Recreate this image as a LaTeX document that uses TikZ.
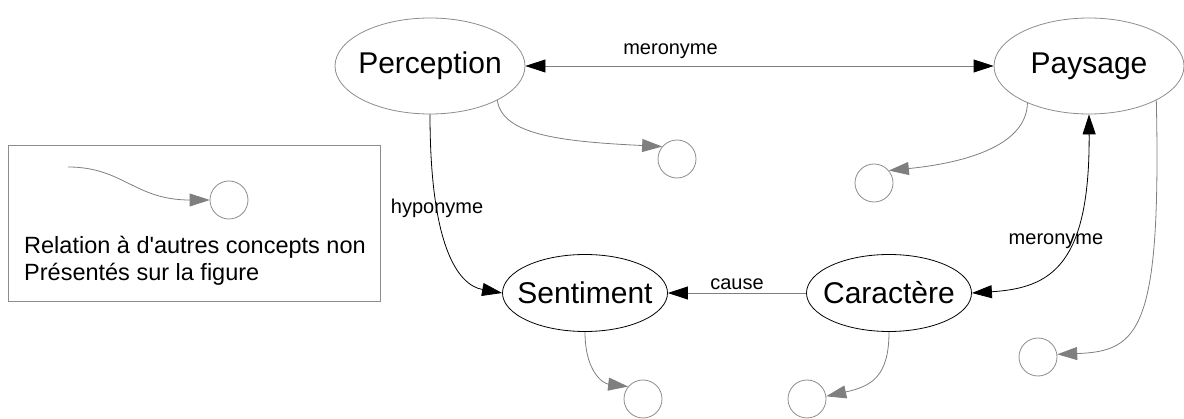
\documentclass[tikz,border=0pt]{standalone}
\usepackage{fontspec}
\setmainfont{Liberation Sans}
\usetikzlibrary{arrows.meta,shapes.geometric}
\definecolor{linegray}{HTML}{7F7F7F}
\definecolor{rimgray}{HTML}{8C8C8C}
\tikzset{
blk/.tip={Triangle[length=20pt,width=13pt,black]},
gry/.tip={Triangle[length=20pt,width=13pt,linegray]},
concept/.style={ellipse,draw=rimgray,line width=0.8pt,inner xsep=-10pt,inner ysep=0pt,minimum width=190pt,minimum height=96pt,font=\fontsize{30}{36}\selectfont},
focus/.style={concept,draw=black,minimum width=165pt,minimum height=77pt},
other/.style={circle,draw=rimgray,line width=0.8pt,minimum size=38pt,inner sep=0pt},
rel/.style={line width=0.8pt,font=\fontsize{20}{24}\selectfont},
}

\begin{document}
\begin{tikzpicture}[x=1pt,y=-1pt]
\useasboundingbox (0,0) rectangle (1184,419);
\node[concept] (perc) at (430,66) {Perception};
\node[concept] (pays) at (1089,66) {Paysage};
\node[focus] (sent) at (585,293) {Sentiment};
\node[focus] (cara) at (889,293) {Caractère};
% concepts non presentes
\node[other] (autreA) at (677,159) {};
\node[other] (autreB) at (874,183) {};
\node[other] (autreC) at (1038,357) {};
\node[other] (autreD) at (643,399) {};
\node[other] (autreE) at (807,399) {};
\draw[rel,draw=linegray,blk-blk] (perc.east) -- node[pos=0.31,above=4pt]{meronyme} (pays.west);
\draw[rel,-blk] (perc.south) .. controls +(0,130) and +(-45,-8) .. node[pos=0.3]{hyponyme} (sent.west);
\draw[rel,blk-blk] (pays.south) .. controls +(1,151) and +(79,-5) .. node[pos=0.4,xshift=-15pt]{meronyme} (cara.east);
\draw[rel,draw=linegray,-blk] (cara.west) -- node[above]{cause} (sent.east);
\draw[rel,draw=linegray,-gry] (perc.-27) .. controls +(5,35) and +(-100,-5) .. (autreA.140);
\draw[rel,draw=linegray,-gry] (pays.-149) .. controls +(-1,45) and +(70,-7) .. (autreB.40);
\draw[rel,draw=linegray,-gry] (pays.-27) .. controls +(5,230) and +(82,-3) .. (autreC.8);
\draw[rel,draw=linegray,-gry] (sent.south) .. controls +(0,40) and +(-25,-3) .. (autreD.140);
\draw[rel,draw=linegray,-gry] (cara.south) .. controls +(0,45) and +(45,-10) .. (autreE.8);
% legende
\draw[draw=rimgray,line width=0.8pt] (8,145) rectangle (380,301);
\coordinate (legdep) at (68,167);
\node[other] (legautre) at (229,200) {};
\draw[rel,draw=linegray,-gry] (legdep) .. controls +(55,0) and +(-75,0) .. (legautre.west);
\node[anchor=north west,inner sep=0pt,align=left,font=\fontsize{23.5}{27}\selectfont] (legtexte) at (24,236)
  {Relation à d\textquotesingle autres concepts non\\Présentés sur la figure};
\end{tikzpicture}
\end{document}
